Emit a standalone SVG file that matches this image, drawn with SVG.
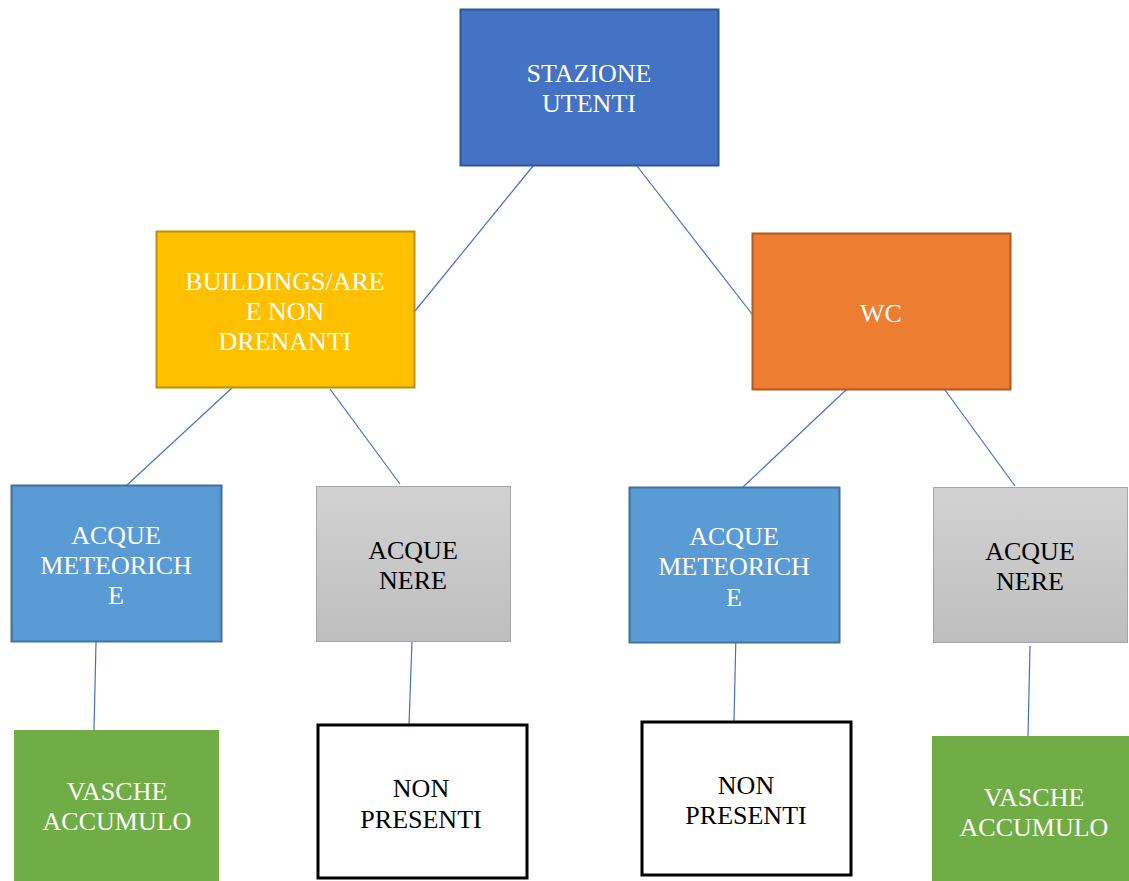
<svg xmlns="http://www.w3.org/2000/svg" width="1129" height="881" viewBox="0 0 1129 881">
<style>
text{font-family:"Liberation Serif","DejaVu Serif",serif;font-size:26px;text-anchor:middle;dominant-baseline:central}
.w{fill:#ffffff}
.k{fill:#000000}
.conn line{stroke:#4472C4;stroke-width:1.2}
</style>
<defs>
<linearGradient id="gray" x1="0" y1="0" x2="0" y2="1">
<stop offset="0" stop-color="#D2D2D2"/>
<stop offset="1" stop-color="#BEBEBE"/>
</linearGradient>
</defs>
<rect width="1129" height="881" fill="#ffffff"/>
<g class="conn" id="connectors">
<line x1="533" y1="166" x2="415" y2="311"/>
<line x1="637" y1="166" x2="752" y2="314"/>
<line x1="233" y1="387" x2="127" y2="485"/>
<line x1="330" y1="389" x2="400" y2="484"/>
<line x1="847" y1="389" x2="743" y2="487"/>
<line x1="945" y1="390" x2="1015" y2="486"/>
<line x1="96" y1="642" x2="94" y2="730"/>
<line x1="412" y1="641" x2="409" y2="724"/>
<line x1="736" y1="633" x2="734" y2="721"/>
<line x1="1030" y1="646" x2="1028" y2="736"/>
</g>
<g id="stazione">
<rect x="460.5" y="9.5" width="258" height="156" fill="#4472C4" stroke="#2F5597" stroke-width="2"/>
<text class="w" x="589" y="73">STAZIONE</text>
<text class="w" x="589" y="103">UTENTI</text>
</g>
<g id="buildings">
<rect x="156.5" y="231.5" width="258" height="156" fill="#FFC000" stroke="#BF9000" stroke-width="2"/>
<text class="w" x="285" y="281">BUILDINGS/ARE</text>
<text class="w" x="285" y="311">E NON</text>
<text class="w" x="285" y="341">DRENANTI</text>
</g>
<g id="wc">
<rect x="752.5" y="233.5" width="258" height="156" fill="#ED7D31" stroke="#AE5A21" stroke-width="2"/>
<text class="w" x="881" y="313">WC</text>
</g>
<g id="meteoriche1">
<rect x="11.5" y="485.5" width="210" height="156" fill="#5B9BD5" stroke="#41719C" stroke-width="2"/>
<text class="w" x="116" y="535">ACQUE</text>
<text class="w" x="116" y="565">METEORICH</text>
<text class="w" x="116" y="595">E</text>
</g>
<g id="nere1">
<rect x="316.5" y="486.5" width="194" height="155" fill="url(#gray)" stroke="#A6A6A6" stroke-width="1"/>
<text class="k" x="413" y="550">ACQUE</text>
<text class="k" x="413" y="580">NERE</text>
</g>
<g id="meteoriche2">
<rect x="629.5" y="487.5" width="210" height="155" fill="#5B9BD5" stroke="#41719C" stroke-width="2"/>
<text class="w" x="734" y="536">ACQUE</text>
<text class="w" x="734" y="566">METEORICH</text>
<text class="w" x="734" y="597">E</text>
</g>
<g id="nere2">
<rect x="933.5" y="487.5" width="194" height="155" fill="url(#gray)" stroke="#A6A6A6" stroke-width="1"/>
<text class="k" x="1030" y="551">ACQUE</text>
<text class="k" x="1030" y="581">NERE</text>
</g>
<g id="vasche1">
<rect x="14" y="730" width="205" height="151" fill="#70AD47"/>
<text class="w" x="117" y="791">VASCHE</text>
<text class="w" x="117" y="821">ACCUMULO</text>
</g>
<g id="nonpresenti1">
<rect x="318" y="725" width="209" height="153" fill="#ffffff" stroke="#000000" stroke-width="3"/>
<text class="k" x="421" y="788">NON</text>
<text class="k" x="421" y="819">PRESENTI</text>
</g>
<g id="nonpresenti2">
<rect x="642" y="722" width="209" height="153" fill="#ffffff" stroke="#000000" stroke-width="3"/>
<text class="k" x="746" y="785">NON</text>
<text class="k" x="746" y="815">PRESENTI</text>
</g>
<g id="vasche2">
<rect x="932" y="736" width="197" height="145" fill="#70AD47"/>
<text class="w" x="1034" y="797">VASCHE</text>
<text class="w" x="1034" y="827">ACCUMULO</text>
</g>
</svg>
